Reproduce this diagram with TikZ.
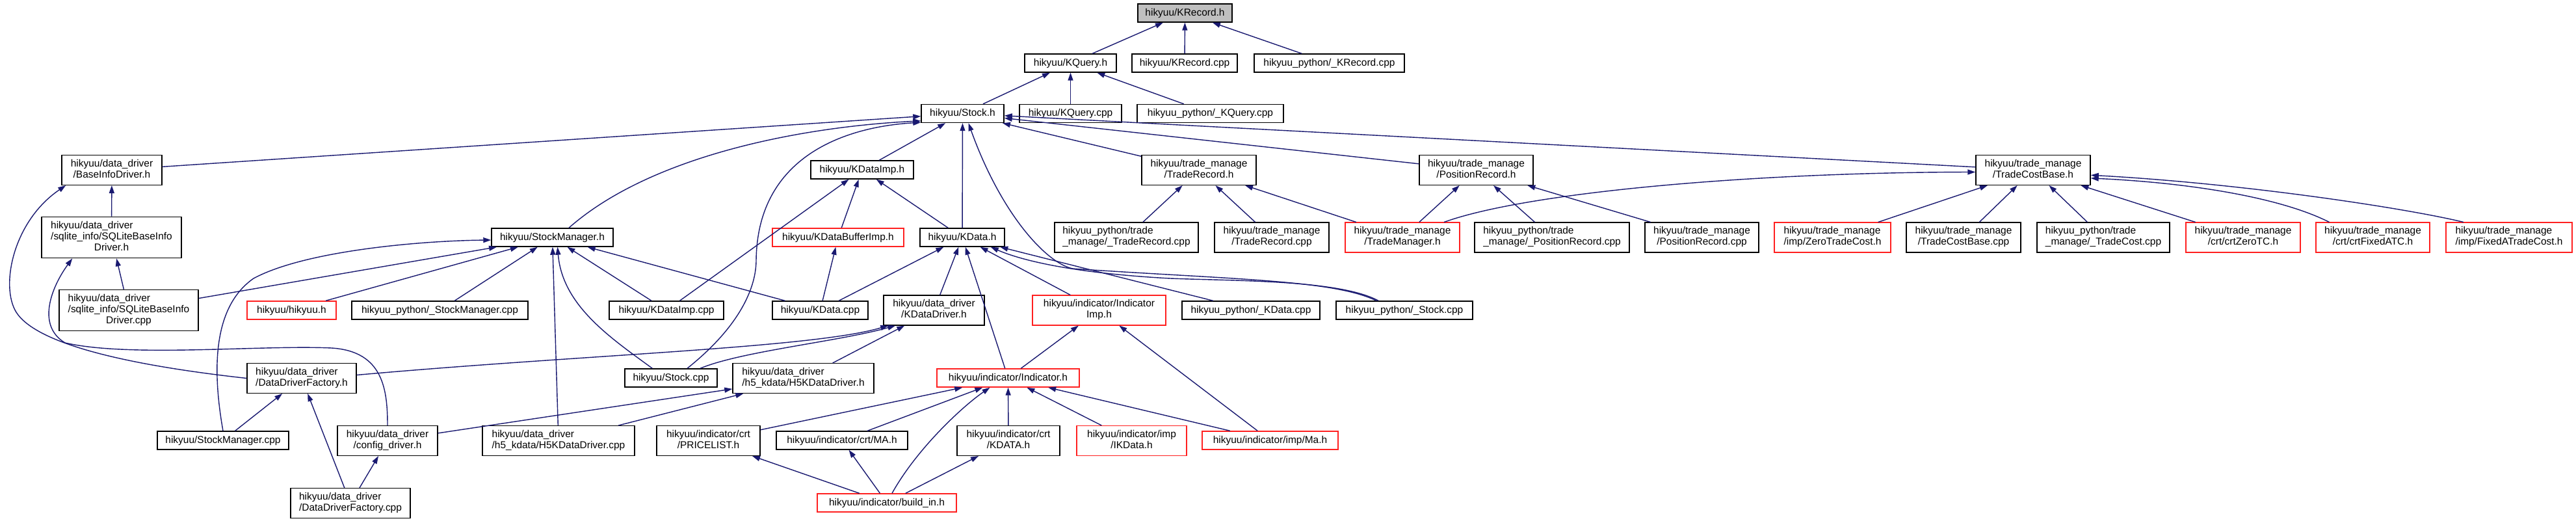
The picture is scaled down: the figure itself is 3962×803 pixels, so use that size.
\documentclass[tikz,border=0pt]{standalone}
\usepackage{fontspec}
\setmainfont{Liberation Sans}
\usetikzlibrary{arrows.meta,calc}

\definecolor{edgeblue}{HTML}{191970}
\definecolor{rootgray}{HTML}{BFBFBF}
\definecolor{missred}{HTML}{FF2020}

\newcommand{\twoline}[2]{\begin{tabular}{@{}l@{}}#1\\\multicolumn{1}{@{}c@{}}{#2}\end{tabular}}
\newcommand{\threeline}[3]{\begin{tabular}{@{}l@{}}#1\\#2\\\multicolumn{1}{@{}c@{}}{#3}\end{tabular}}

\begin{document}
\begin{tikzpicture}
[x=0.025cm, y=-0.025cm, font=\fontsize{11}{12}\selectfont]

\tikzstyle{filebox}=[rectangle, draw=black, line width=1pt, fill=white, inner sep=0mm, minimum height=0.7cm]
\tikzstyle{twol}=[filebox, minimum height=1.14cm]
\tikzstyle{threel}=[filebox, minimum height=1.58cm]
\tikzstyle{reddoc}=[draw=missred]
\tikzstyle{mainfile}=[fill=rootgray]
\tikzstyle{incl}=[draw=edgeblue, line width=1pt, -{Triangle[length=0.3cm, width=0.2cm]}]

\useasboundingbox (0,0) rectangle (3962,803);

\node[filebox, mainfile, minimum width=3.625cm]	(KRh)	at (1822.5,20)	{hikyuu/KRecord.h};

\node[filebox, minimum width=3.525cm]	(KQh)		at (1646.5,97)	{hikyuu/KQuery.h};
\node[filebox, minimum width=4.05cm]	(KRcpp)	at (1822,97)	{hikyuu/KRecord.cpp};
\node[filebox, minimum width=5.775cm]	(pyKR)	at (2044.5,97)	{hikyuu\_python/\_KRecord.cpp};

\node[filebox, minimum width=3.175cm]	(Stockh)	at (1480.5,174.5)	{hikyuu/Stock.h};
\node[filebox, minimum width=3.925cm]	(KQcpp)	at (1646.5,174.5)	{hikyuu/KQuery.cpp};
\node[filebox, minimum width=5.625cm]	(pyKQ)	at (1861.5,174.5)	{hikyuu\_python/\_KQuery.cpp};

\node[twol, minimum width=3.85cm]	(BIDh)	at (172,261.5)	{\twoline{hikyuu/data\_driver}{/BaseInfoDriver.h}};
\node[filebox, minimum width=3.95cm]	(KDIh)	at (1326,261)	{hikyuu/KDataImp.h};
\node[twol, minimum width=4.4cm]	(TRh)		at (1844,261.5)	{\twoline{hikyuu/trade\_manage}{/TradeRecord.h}};
\node[twol, minimum width=4.375cm]	(PRh)		at (2270.5,261.5)	{\twoline{hikyuu/trade\_manage}{/PositionRecord.h}};
\node[twol, minimum width=4.4cm]	(TCBh)	at (3127,261.5)	{\twoline{hikyuu/trade\_manage}{/TradeCostBase.h}};

\node[threel, minimum width=5.375cm]	(SQLh)	at (171.5,365)	{\threeline{hikyuu/data\_driver}{/sqlite\_info/SQLiteBaseInfo}{Driver.h}};
\node[filebox, minimum width=4.675cm]	(SMh)		at (849.5,365)	{hikyuu/StockManager.h};
\node[filebox, reddoc, minimum width=5.05cm]	(KDBh)	at (1289,365)	{hikyuu/KDataBufferImp.h};
\node[filebox, minimum width=3.25cm]	(KDh)		at (1480,365)	{hikyuu/KData.h};
\node[twol, minimum width=5.525cm]	(pyTR)	at (1732.5,365)	{\twoline{hikyuu\_python/trade}{\_manage/\_TradeRecord.cpp}};
\node[twol, minimum width=4.4cm]	(TRcpp)	at (1956,365)	{\twoline{hikyuu/trade\_manage}{/TradeRecord.cpp}};
\node[twol, reddoc, minimum width=4.4cm]	(TMh)		at (2157,365)	{\twoline{hikyuu/trade\_manage}{/TradeManager.h}};
\node[twol, minimum width=5.95cm]	(pyPR)	at (2387,365)	{\twoline{hikyuu\_python/trade}{\_manage/\_PositionRecord.cpp}};
\node[twol, minimum width=4.375cm]	(PRcpp)	at (2617.5,365)	{\twoline{hikyuu/trade\_manage}{/PositionRecord.cpp}};
\node[twol, reddoc, minimum width=4.475cm]	(ZTCh)	at (2818.5,365)	{\twoline{hikyuu/trade\_manage}{/imp/ZeroTradeCost.h}};
\node[twol, minimum width=4.4cm]	(TCBcpp)	at (3020,365)	{\twoline{hikyuu/trade\_manage}{/TradeCostBase.cpp}};
\node[twol, minimum width=5.1cm]	(pyTC)	at (3235,365)	{\twoline{hikyuu\_python/trade}{\_manage/\_TradeCost.cpp}};
\node[twol, reddoc, minimum width=4.4cm]	(crtZTC)	at (3450,365)	{\twoline{hikyuu/trade\_manage}{/crt/crtZeroTC.h}};
\node[twol, reddoc, minimum width=4.375cm]	(crtFATC)	at (3649.5,365)	{\twoline{hikyuu/trade\_manage}{/crt/crtFixedATC.h}};
\node[twol, reddoc, minimum width=4.85cm]	(FATCh)	at (3859,365)	{\twoline{hikyuu/trade\_manage}{/imp/FixedATradeCost.h}};

\node[threel, minimum width=5.35cm]	(SQLcpp)	at (198,477)	{\threeline{hikyuu/data\_driver}{/sqlite\_info/SQLiteBaseInfo}{Driver.cpp}};
\node[filebox, reddoc, minimum width=3.425cm]	(hikyuuh)	at (448.5,477)	{hikyuu/hikyuu.h};
\node[filebox, minimum width=6.775cm]	(pySM)	at (676.5,477)	{hikyuu\_python/\_StockManager.cpp};
\node[filebox, minimum width=4.4cm]	(KDIcpp)	at (1025,477)	{hikyuu/KDataImp.cpp};
\node[filebox, minimum width=3.675cm]	(KDcpp)	at (1261.5,477)	{hikyuu/KData.cpp};
\node[twol, minimum width=3.875cm]	(KDDh)	at (1436.5,477)	{\twoline{hikyuu/data\_driver}{/KDataDriver.h}};
\node[twol, reddoc, minimum width=5.125cm]	(IIh)		at (1690.5,477)	{\twoline{hikyuu/indicator/Indicator}{Imp.h}};
\node[filebox, minimum width=5.3cm]	(pyKD)	at (1924,477)	{hikyuu\_python/\_KData.cpp};
\node[filebox, minimum width=5.25cm]	(pySt)	at (2160,477)	{hikyuu\_python/\_Stock.cpp};

\node[twol, minimum width=4.2cm]	(DDFh)	at (464,581.5)	{\twoline{hikyuu/data\_driver}{/DataDriverFactory.h}};
\node[filebox, minimum width=3.55cm]	(Stcpp)	at (1032,581)	{hikyuu/Stock.cpp};
\node[twol, minimum width=5.425cm]	(H5h)		at (1235.5,581.5)	{\twoline{hikyuu/data\_driver}{/h5\_kdata/H5KDataDriver.h}};
\node[filebox, reddoc, minimum width=5.475cm]	(Indh)	at (1550.5,581)	{hikyuu/indicator/Indicator.h};

\node[filebox, minimum width=5.05cm]	(SMcpp)	at (343,677)	{hikyuu/StockManager.cpp};
\node[twol, minimum width=3.85cm]	(cfgh)	at (596,677.5)	{\twoline{hikyuu/data\_driver}{/config\_driver.h}};
\node[twol, minimum width=5.85cm]	(H5cpp)	at (859,677.5)	{\twoline{hikyuu/data\_driver}{/h5\_kdata/H5KDataDriver.cpp}};
\node[twol, minimum width=3.975cm]	(PLh)		at (1089.5,677.5)	{\twoline{hikyuu/indicator/crt}{/PRICELIST.h}};
\node[filebox, minimum width=5.05cm]	(MAh)		at (1295,677)	{hikyuu/indicator/crt/MA.h};
\node[twol, minimum width=3.95cm]	(KDATAh)	at (1551,677.5)	{\twoline{hikyuu/indicator/crt}{/KDATA.h}};
\node[twol, reddoc, minimum width=4.225cm]	(IKDh)	at (1740.5,677.5)	{\twoline{hikyuu/indicator/imp}{/IKData.h}};
\node[filebox, reddoc, minimum width=5.225cm]	(Mah)		at (1953.5,677)	{hikyuu/indicator/imp/Ma.h};

\node[twol, minimum width=4.6cm]	(DDFcpp)	at (539,773.5)	{\twoline{hikyuu/data\_driver}{/DataDriverFactory.cpp}};
\node[filebox, reddoc, minimum width=5.35cm]	(BIh)		at (1364,773)	{hikyuu/indicator/build\_in.h};

\draw[incl] (KQh) -- (KRh);
\draw[incl] (KRcpp) -- (KRh);
\draw[incl] (pyKR) -- (KRh);
\draw[incl] (Stockh) -- (KQh);
\draw[incl] (KQcpp) -- (KQh);
\draw[incl] (pyKQ) -- (KQh);

\draw[incl] (BIDh) -- (Stockh);
\draw[incl] (KDIh) -- (Stockh);
\draw[incl] (KDh) -- (Stockh);
\draw[incl] (TRh) -- (Stockh);
\draw[incl] (PRh) -- (Stockh);
\draw[incl] (TCBh) -- (Stockh);
\draw[incl] (SMh.30) .. controls (1000,240) and (1230,195) .. (Stockh.190);
\draw[incl] ($(Stcpp.north)+(25,0)$) .. controls (1140,500) and (1163,440) .. (1163,400) .. controls (1165,240) and (1300,195) .. (Stockh.192);
\draw[incl] ($(pySt.north)+(-43,0)$) .. controls (2050,430) and (1900,430) .. (1650,413) .. controls (1610,405) and (1540,330) .. ($(Stockh.south)+(9,0)$);

\draw[incl] (SQLh) -- (BIDh);
\draw[incl] (DDFh.west) .. controls (230,565) and (60,535) .. (25,480) .. controls (0,440) and (20,340) .. ($(BIDh.south west)+(7,0)$);
\draw[incl] (SQLcpp) -- (SQLh);
\draw[incl] (cfgh.north) .. controls (596,600) and (590,540) .. (510,535) .. controls (400,530) and (200,550) .. (100,527) .. controls (55,500) and (80,440) .. ($(SQLh.south west)+(48,0)$);

\draw[incl] (SMcpp.north) .. controls (325,560) and (330,470) .. (390,428) .. controls (470,385) and (650,370) .. ($(SMh.west)+(0,4)$);
\draw[incl] (SQLcpp) -- (SMh);
\draw[incl] (hikyuuh) -- (SMh);
\draw[incl] (pySM) -- (SMh);
\draw[incl] (H5cpp) -- (SMh);
\draw[incl] ($(Stcpp.north west)+(43,0)$) .. controls (940,520) and (865,470) .. ($(SMh.south)+(8,0)$);
\draw[incl] (KDIcpp) -- (SMh);
\draw[incl] (KDcpp) -- (SMh);

\draw[incl] (KDIcpp) -- (KDIh);
\draw[incl] (KDBh) -- (KDIh);
\draw[incl] (KDh) -- (KDIh);
\draw[incl] (KDcpp) -- (KDBh);

\draw[incl] (KDcpp) -- (KDh);
\draw[incl] (KDDh) -- (KDh);
\draw[incl] (Indh) -- (KDh);
\draw[incl] (IIh) -- (KDh);
\draw[incl] (pyKD) -- (KDh);
\draw[incl] ($(pySt.north)+(-40,0)$) .. controls (2060,430) and (1900,432) .. (1800,428) .. controls (1650,420) and (1570,400) .. ($(KDh.south east)+(-22,0)$);

\draw[incl] (pyTR) -- (TRh);
\draw[incl] (TRcpp) -- (TRh);
\draw[incl] (TMh) -- (TRh);
\draw[incl] (TMh) -- (PRh);
\draw[incl] (pyPR) -- (PRh);
\draw[incl] (PRcpp) -- (PRh);

\draw[incl] ($(TMh.north)+(64,0)$) .. controls (2350,295) and (2700,265) .. ($(TCBh.west)+(0,3)$);
\draw[incl] (ZTCh) -- (TCBh);
\draw[incl] (TCBcpp) -- (TCBh);
\draw[incl] (pyTC) -- (TCBh);
\draw[incl] (crtZTC) -- (TCBh);
\draw[incl] ($(crtFATC.north)+(-67,0)$) .. controls (3500,300) and (3350,280) .. (TCBh.-8);
\draw[incl] ($(FATCh.north)+(-70,0)$) .. controls (3700,320) and (3450,282) .. (TCBh.-5);

\draw[incl] ($(DDFh.east)+(0,-5)$) .. controls (900,545) and (1250,535) .. ($(KDDh.south west)+(8,0)$);
\draw[incl] ($(Stcpp.north)+(45,0)$) .. controls (1140,540) and (1290,525) .. ($(KDDh.south west)+(19,0)$);
\draw[incl] (H5h) -- (KDDh);

\draw[incl] (SMcpp) -- (DDFh);
\draw[incl] (DDFcpp) -- (DDFh);
\draw[incl] (cfgh) -- (H5h);
\draw[incl] (H5cpp) -- (H5h);
\draw[incl] (DDFcpp) -- (cfgh);

\draw[incl] (Indh) -- (IIh);
\draw[incl] (Mah) -- (IIh);

\draw[incl] (PLh) -- (Indh);
\draw[incl] (MAh) -- (Indh);
\draw[incl] ($(BIh.north)+(8,0)$) .. controls (1410,690) and (1480,625) .. ($(Indh.south)+(-28,0)$);
\draw[incl] (KDATAh) -- (Indh);
\draw[incl] (IKDh) -- (Indh);
\draw[incl] (Mah) -- (Indh);

\draw[incl] (BIh) -- (PLh);
\draw[incl] (BIh) -- (MAh);
\draw[incl] (BIh) -- (KDATAh);
\end{tikzpicture}
\end{document}
